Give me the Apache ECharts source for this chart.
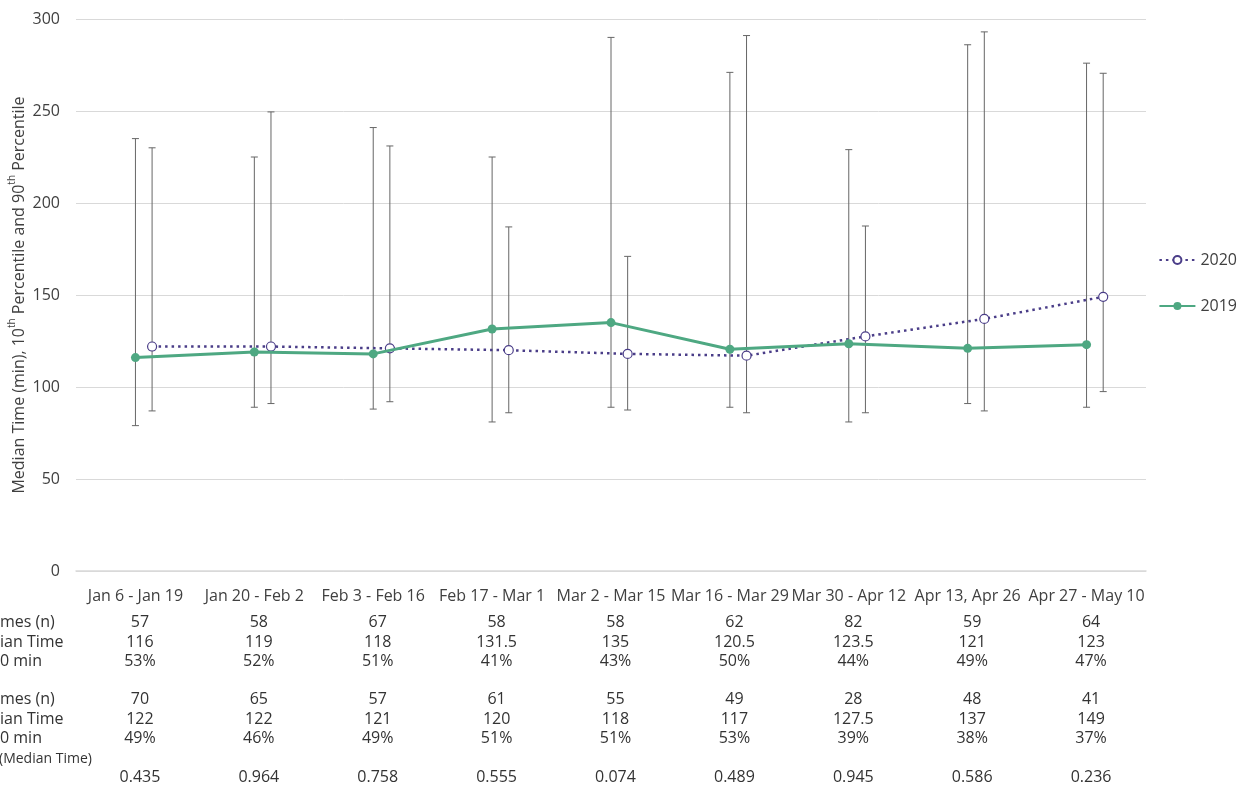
<!DOCTYPE html>
<html>
<head>
<meta charset="utf-8">
<script src="https://cdn.jsdelivr.net/npm/echarts@6/dist/echarts.min.js"></script>
<style>
  html, body { margin: 0; padding: 0; background: #fff; }
  #chart { width: 1243px; height: 788px; }
</style>
</head>
<body>
<div id="chart"></div>
<script>
const categories = ['Jan 6 - Jan 19', 'Jan 20 - Feb 2', 'Feb 3 - Feb 16', 'Feb 17 - Mar 1', 'Mar 2 - Mar 15',
  'Mar 16 - Mar 29', 'Mar 30 - Apr 12', 'Apr 13, Apr 26', 'Apr 27 - May 10']
const yTicks = [0, 50, 100, 150, 200, 250, 300]

const median2019 = [116, 119, 118, 131.5, 135, 120.5, 123.5, 121, 123]
const p10_2019 = [79, 89, 88, 81, 89, 89, 81, 91, 89]
const p90_2019 = [235, 225, 241, 225, 290, 271, 229, 286, 276]

const median2020 = [122, 122, 121, 120, 118, 117, 127.5, 137, 149]
const p10_2020 = [87, 91, 92, 86, 87.5, 86, 86, 87, 97.5]
const p90_2020 = [230, 249.5, 231, 187, 171, 291, 187.5, 293, 270.5]

const volumes2019 = ['57', '58', '67', '58', '58', '62', '82', '59', '64']
const pct2019 = ['53%', '52%', '51%', '41%', '43%', '50%', '44%', '49%', '47%']
const volumes2020 = ['70', '65', '57', '61', '55', '49', '28', '48', '41']
const pct2020 = ['49%', '46%', '49%', '51%', '51%', '53%', '39%', '38%', '37%']
const pValues = ['0.435', '0.964', '0.758', '0.555', '0.074', '0.489', '0.945', '0.586', '0.236']

const rowLabels = ['mes (n)', 'ian Time', '0 min', '', 'mes (n)', 'ian Time', '0 min', '(Median Time)']

const font = 'Open Sans'
const fs = 16
const green = '#4ea882'
const purple = '#4a3d88'
const off2020 = 0.14

const fmt = v => String(v)

// table rows drawn as extra category axes under the plot
const tableRows = [
  { data: volumes2019, y: 621 },
  { data: median2019.map(fmt), y: 641 },
  { data: pct2019, y: 660 },
  { data: volumes2020, y: 698 },
  { data: median2020.map(fmt), y: 718 },
  { data: pct2020, y: 737 },
  { data: pValues, y: 776 }
]
const rowLabelY = [621, 641, 660, 679, 698, 718, 737, 757]

const chart = echarts.init(document.getElementById('chart'))

const errorBars = (lo, hi, off) => ({
  type: 'custom',
  xAxisIndex: 1,
  z: 1,
  silent: true,
  data: lo.map((v, i) => [i + off, v, hi[i]]),
  renderItem: (params, api) => {
    const x = api.value(0)
    const a = api.coord([x, api.value(1)])
    const b = api.coord([x, api.value(2)])
    const s = { stroke: '#666', lineWidth: 1 }
    return {
      type: 'group',
      children: [
        { type: 'line', shape: { x1: a[0], y1: a[1], x2: b[0], y2: b[1] }, style: s },
        { type: 'line', shape: { x1: a[0] - 3.5, y1: a[1], x2: a[0] + 3.5, y2: a[1] }, style: s },
        { type: 'line', shape: { x1: b[0] - 3.5, y1: b[1], x2: b[0] + 3.5, y2: b[1] }, style: s }
      ]
    }
  }
})

const xAxes = [
  {
    type: 'category',
    data: categories,
    boundaryGap: true,
    axisLine: { lineStyle: { color: '#d9d9d9', width: 1.5 } },
    axisTick: { show: false },
    axisLabel: { interval: 0, margin: 17, fontSize: fs, fontFamily: font, color: '#404040' }
  },
  { type: 'value', min: -0.5, max: 8.5, show: false }
]
tableRows.forEach(r => {
  xAxes.push({
    type: 'category',
    data: r.data,
    position: 'bottom',
    offset: r.y - 594,
    axisLine: { show: false },
    axisTick: { show: false },
    splitLine: { show: false },
    axisLabel: { interval: 0, margin: 16, fontSize: fs, fontFamily: font, color: '#333', padding: [0, 0, 0, 9] }
  })
})

chart.setOption({
  animation: false,
  backgroundColor: '#fff',
  textStyle: { fontFamily: font },
  grid: { left: 76, right: 97, top: 19, bottom: 217, containLabel: false, outerBoundsMode: 'none' },
  legend: {
    orient: 'vertical',
    right: 1,
    top: 247,
    itemGap: 30,
    itemWidth: 36,
    itemHeight: 10,
    data: ['2020', '2019'],
    textStyle: { fontSize: fs, color: '#404040', fontFamily: font }
  },
  xAxis: xAxes,
  yAxis: {
    type: 'value',
    min: yTicks[0],
    max: yTicks[yTicks.length - 1],
    interval: 50,
    axisLine: { show: false },
    axisTick: { show: false },
    axisLabel: { fontSize: fs, color: '#404040', margin: 16, fontFamily: font },
    splitLine: { lineStyle: { color: '#d9d9d9' } },
    name: '{a|Median Time (min), 10}{s|th}{a| Percentile and 90}{s|th}{a| Percentile}',
    nameLocation: 'middle',
    nameRotate: 90,
    nameGap: 49,
    nameMoveOverlap: false,
    nameTextStyle: {
      rich: {
        a: { fontSize: fs, color: '#404040', fontFamily: font, verticalAlign: 'bottom', lineHeight: 20 },
        s: { fontSize: 10, color: '#404040', fontFamily: font, verticalAlign: 'top', lineHeight: 20 }
      }
    }
  },
  graphic: rowLabels.map((t, i) => ({
    type: 'text',
    left: i === 7 ? -1 : 0,
    top: rowLabelY[i] - (i === 7 ? 5 : 7),
    style: { text: t, fontSize: i === 7 ? 14 : fs, fontFamily: font, fill: '#333' }
  })),
  series: [
    errorBars(p10_2019, p90_2019, 0),
    errorBars(p10_2020, p90_2020, off2020),
    {
      name: '2020',
      type: 'line',
      xAxisIndex: 1,
      z: 3,
      data: median2020.map((v, i) => [i + off2020, v]),
      symbol: 'circle',
      symbolSize: 9,
      showAllSymbol: true,
      lineStyle: { color: purple, width: 2.5, type: [2.5, 4] },
      itemStyle: { color: '#fff', borderColor: purple, borderWidth: 1.2 }
    },
    {
      name: '2019',
      type: 'line',
      xAxisIndex: 1,
      z: 4,
      data: median2019.map((v, i) => [i, v]),
      symbol: 'circle',
      symbolSize: 9,
      lineStyle: { color: green, width: 3 },
      itemStyle: { color: green }
    }
  ]
})
</script>
</body>
</html>
